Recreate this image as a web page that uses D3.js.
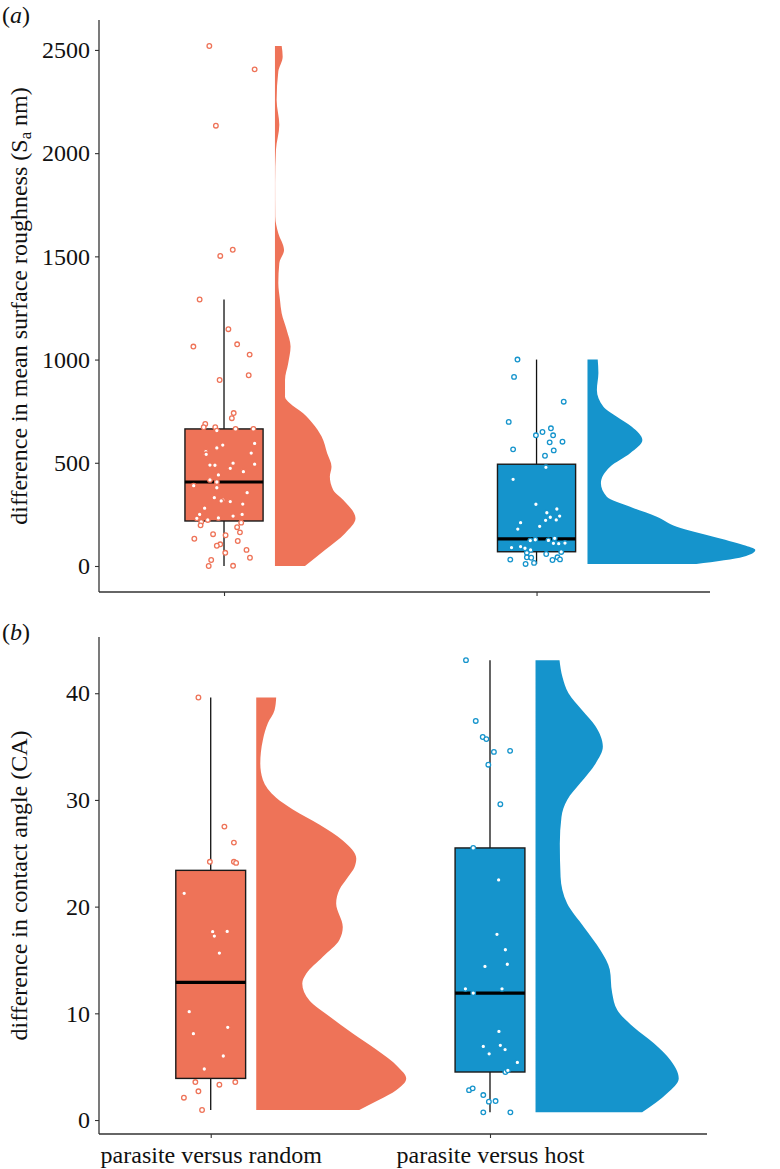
<!DOCTYPE html>
<html>
<head>
<meta charset="utf-8">
<script src="https://cdn.jsdelivr.net/npm/d3@7"></script>
<style>
  html, body { margin: 0; padding: 0; background: #fff; }
  svg { display: block; }
  text { font-family: "Liberation Serif", "DejaVu Serif", serif; fill: #111; }
</style>
</head>
<body>
<svg id="chart" width="780" height="1169"></svg>
<script>
// ---------- DATA ----------
const categories = ["parasite versus random", "parasite versus host"];
const seriesColors = ["#EE7358", "#1594CC"];

// panel (a): difference in mean surface roughness (Sa nm)
const roughTicks = [0, 500, 1000, 1500, 2000, 2500];
// box stats: [lower whisker, Q1, median, Q3, upper whisker]
const roughBoxRandom = [0, 218, 407, 664, 1291];
const roughBoxHost = [10, 69, 131, 493, 1000];
// jittered points: [value, jitter (category units)]
const roughPointsRandom = [
  [2519,-0.047],[2406,0.098],[2133,-0.026],[1502,-0.012],[1532,0.028],[1291,-0.078],
  [1147,0.014],[1063,-0.098],[1074,0.042],[1024,0.082],[924,0.079],[901,-0.014],
  [741,0.031],[716,0.025],[688,-0.060],[672,-0.065],[672,-0.028],[656,-0.023],
  [664,0.037],[664,0.094],[594,0.098],[586,-0.004],[572,-0.023],[554,-0.058],
  [541,-0.057],[547,0.087],[489,-0.045],[488,-0.029],[498,0.029],[473,0.020],
  [493,0.098],[457,0.062],[441,-0.018],[417,-0.045],[407,-0.023],[389,-0.097],
  [379,-0.023],[355,0.074],[331,-0.031],[320,-0.004],[315,-0.009],[312,0.020],
  [300,0.060],[280,-0.062],[250,-0.078],[242,0.029],[250,0.058],[231,-0.087],
  [223,-0.052],[233,-0.018],[213,-0.073],[197,-0.075],[210,0.055],[188,0.042],
  [163,0.051],[149,0.005],[154,-0.035],[132,-0.095],[121,0.044],[105,-0.012],
  [98,-0.023],[78,0.072],[64,0.004],[40,0.083],[29,-0.041],[0,-0.049],[1,0.029]
];
const roughPointsHost = [
  [1000,-0.061],[916,-0.072],[796,0.087],[698,-0.089],[667,0.046],[649,0.019],
  [633,-0.002],[633,0.053],[599,0.042],[602,0.083],[565,-0.075],[560,0.055],
  [534,0.027],[478,0.030],[420,-0.075],[299,-0.002],[258,0.033],[236,0.044],
  [276,0.065],[242,0.074],[221,0.029],[223,0.063],[210,-0.051],[192,0.010],
  [179,-0.060],[123,-0.020],[127,-0.004],[124,0.038],[134,0.058],[110,0.054],
  [108,0.071],[111,0.091],[89,-0.080],[94,-0.051],[86,-0.037],[78,-0.019],
  [64,-0.031],[68,0.079],[58,0.031],[42,-0.031],[40,-0.017],[31,-0.084],
  [29,0.051],[42,0.067],[32,0.075],[10,-0.035],[15,-0.008]
];
// half-violin density profiles: [value, relative density (max = 100)]
const roughViolinRandom = [
  [0,17.9],[78,29.8],[158,41.7],[231,48.0],[320,40.7],[368,34.7],[433,32.7],[481,33.7],
  [546,31.1],[627,27.8],[691,22.4],[740,16.8],[788,8.9],[820,6.0],[901,6.0],[982,7.9],
  [1063,9.3],[1143,7.0],[1224,4.0],[1289,3.0],[1371,2.0],[1467,2.6],[1531,5.4],[1612,2.0],
  [1692,0.2],[1855,0.1],[2016,0.6],[2137,2.6],[2258,1.0],[2395,2.0],[2467,4.6],[2519,4.0]
];
const roughViolinHost = [
  [10,64.9],[45,92.9],[78,100],[102,92.9],[142,75.0],[190,53.2],[239,41.3],[287,25.4],
  [336,11.5],[401,8.0],[481,13.5],[546,25.4],[610,32.7],[675,26.4],[723,17.5],[772,9.5],
  [853,5.6],[935,6.5],[1000,6.1]
];

// panel (b): difference in contact angle (CA)
const angleTicks = [0, 10, 20, 30, 40];
const angleBoxRandom = [0.94, 3.9, 12.9, 23.4, 39.6];
const angleBoxHost = [0.72, 4.5, 11.9, 25.5, 43.1];
const anglePointsRandom = [
  [39.6,-0.044],[27.5,0.049],[26.0,0.083],[24.2,-0.003],[24.2,0.083],[24.1,0.091],
  [21.25,-0.095],[17.65,0.007],[17.24,0.013],[17.68,0.059],[15.65,0.031],[10.15,-0.077],
  [8.69,0.061],[8.09,-0.062],[6.0,0.045],[4.78,-0.023],[3.56,-0.055],[3.31,0.031],
  [3.56,0.088],[2.69,-0.044],[2.09,-0.096],[0.94,-0.031]
];
const anglePointsHost = [
  [43.1,-0.086],[37.4,-0.051],[35.9,-0.026],[35.7,-0.013],[34.5,0.014],[34.6,0.072],
  [33.3,-0.006],[29.6,0.037],[25.5,-0.060],[22.5,0.031],[17.4,0.025],[15.96,0.055],
  [14.4,-0.018],[14.6,0.062],[12.3,-0.088],[12.3,0.043],[11.9,-0.060],[8.3,0.032],
  [6.9,-0.024],[7.0,0.037],[6.6,0.054],[6.2,-0.003],[5.4,0.098],[4.5,0.055],
  [4.66,0.064],[2.8,-0.075],[2.97,-0.062],[2.34,-0.024],[1.72,-0.004],[1.78,0.020],
  [0.72,-0.024],[0.72,0.073]
];
const angleViolinRandom = [
  [0.94,68.7],[1.9,82],[2.8,93.3],[3.9,100],[5.0,94.4],[6.6,80],[8.1,64.4],[9.7,48.9],
  [11.2,35.5],[12.8,30.7],[13.7,33.3],[15.3,44.4],[16.9,55.5],[18.1,57.7],[20.3,53.3],
  [21.6,55.5],[22.8,61.3],[23.7,65.5],[24.5,66.7],[26.2,57.7],[27.7,42],[29.1,24.4],
  [30.2,13.3],[31.9,4.4],[33.4,2.7],[35.6,4.4],[37.2,7.8],[38.4,12.2],[39.6,13.3]
];
const angleViolinHost = [
  [0.72,71.1],[2.5,87.8],[3.9,95.5],[5.6,90],[7.2,78.9],[8.7,65.5],[10.3,54.5],[11.9,51.1],
  [14.1,49.5],[15.9,43.3],[18.1,32.2],[20.3,21.1],[22.8,16.7],[25.9,16.2],[28.4,17.3],
  [30.0,21.1],[31.6,30],[33.4,40],[35.0,44.9],[36.9,40],[38.4,31.1],[40.0,22],
  [41.5,18],[43.1,16]
];

// ---------- DRAWING ----------
const svg = d3.select("#chart");
const FONT = 24;

const panels = [
  {
    label: "(a)", labelY: 23,
    top: 20, bottom: 592, left: 99, right: 710,
    xDomain: [0.6, 2.555],
    yDomain: [-126, 2645],
    ticks: roughTicks,
    boxes: [roughBoxRandom, roughBoxHost],
    points: [roughPointsRandom, roughPointsHost],
    violins: [roughViolinRandom, roughViolinHost],
    title: ["difference in mean surface roughness (S", "a", " nm)"],
    showXLabels: false
  },
  {
    label: "(b)", labelY: 640,
    top: 637, bottom: 1134, left: 99, right: 707,
    xDomain: [0.6, 2.777],
    yDomain: [-1.31, 45.27],
    ticks: angleTicks,
    boxes: [angleBoxRandom, angleBoxHost],
    points: [anglePointsRandom, anglePointsHost],
    violins: [angleViolinRandom, angleViolinHost],
    title: ["difference in contact angle (CA)"],
    showXLabels: true
  }
];

const BOX_HALF = 0.125;     // category units
const VIOLIN_GAP = 0.163;   // offset of violin base from category centre
const VIOLIN_MAX = 0.537;   // width (category units) of density 100

panels.forEach(p => {
  const g = svg.append("g");
  const x = d3.scaleLinear().domain(p.xDomain).range([p.left, p.right]);
  const y = d3.scaleLinear().domain(p.yDomain).range([p.bottom, p.top]);
  const w = d3.scaleLinear().domain([0, 100]).range([0, VIOLIN_MAX]);

  categories.forEach((cat, i) => {
    const c = i + 1;
    const col = seriesColors[i];

    // half violin
    const area = d3.area()
      .curve(d3.curveMonotoneY)
      .y(d => y(d[0]))
      .x0(() => x(c + VIOLIN_GAP))
      .x1(d => x(c + VIOLIN_GAP + w(d[1])));
    g.append("path").datum(p.violins[i])
      .attr("d", area).attr("fill", col).attr("stroke", "none");

    // whisker
    const b = p.boxes[i];
    g.append("line")
      .attr("x1", x(c)).attr("x2", x(c))
      .attr("y1", y(b[0])).attr("y2", y(b[4]))
      .attr("stroke", "#111").attr("stroke-width", 1.3);
    // box
    g.append("rect")
      .attr("x", x(c - BOX_HALF)).attr("width", x(c + BOX_HALF) - x(c - BOX_HALF))
      .attr("y", y(b[3])).attr("height", y(b[1]) - y(b[3]))
      .attr("fill", col).attr("stroke", "#1a1a1a").attr("stroke-width", 1.4);
    // median
    g.append("line")
      .attr("x1", x(c - BOX_HALF)).attr("x2", x(c + BOX_HALF))
      .attr("y1", y(b[2])).attr("y2", y(b[2]))
      .attr("stroke", "#000").attr("stroke-width", 3.2);

    // jittered points
    g.selectAll(null).data(p.points[i]).enter().append("circle")
      .attr("cx", d => x(c + d[1]))
      .attr("cy", d => y(d[0]))
      .attr("r", 2.3)
      .attr("fill", "#fff")
      .attr("stroke", col)
      .attr("stroke-width", 1.3);
  });

  // axes
  const yAxis = d3.axisLeft(y).tickValues(p.ticks).tickSize(4).tickPadding(5).tickFormat(d3.format("d"));
  const ya = g.append("g").attr("transform", `translate(${p.left},0)`).call(yAxis);
  ya.select(".domain").remove();
  g.append("line").attr("x1", p.left).attr("x2", p.left).attr("y1", p.top).attr("y2", p.bottom)
    .attr("stroke", "#333").attr("stroke-width", 1.3);
  ya.selectAll(".tick line").attr("stroke", "#333").attr("stroke-width", 1.1);
  ya.selectAll(".tick text").attr("font-size", FONT).attr("font-family", "Liberation Serif").attr("fill", "#111");

  const xAxis = d3.axisBottom(x).tickValues([1, 2]).tickSize(4).tickPadding(8)
    .tickFormat(d => p.showXLabels ? categories[d - 1] : "");
  const xa = g.append("g").attr("transform", `translate(0,${p.bottom})`).call(xAxis);
  xa.select(".domain").remove();
  g.append("line").attr("x1", p.left).attr("x2", p.right).attr("y1", p.bottom).attr("y2", p.bottom)
    .attr("stroke", "#333").attr("stroke-width", 1.3);
  xa.selectAll(".tick line").attr("stroke", "#333").attr("stroke-width", 1.1);
  xa.selectAll(".tick text").attr("font-size", FONT).attr("font-family", "Liberation Serif").attr("fill", "#111");

  // y title
  const cy = (p.top + p.bottom) / 2;
  const t = g.append("text")
    .attr("transform", `translate(27,${cy}) rotate(-90)`)
    .attr("text-anchor", "middle")
    .attr("font-size", FONT);
  p.title.forEach((s, k) => {
    const ts = t.append("tspan").text(s);
    if (p.title.length === 3 && k === 1) {
      ts.attr("font-size", FONT * 0.7).attr("dy", 4);
    } else if (p.title.length === 3 && k === 2) {
      ts.attr("dy", -4);
    }
  });

  // panel label
  const pl = g.append("text").attr("x", 2).attr("y", p.labelY).attr("font-size", FONT);
  pl.append("tspan").text("(");
  pl.append("tspan").attr("font-style", "italic").text(p.label.slice(1, 2));
  pl.append("tspan").text(")");
});
</script>
</body>
</html>
